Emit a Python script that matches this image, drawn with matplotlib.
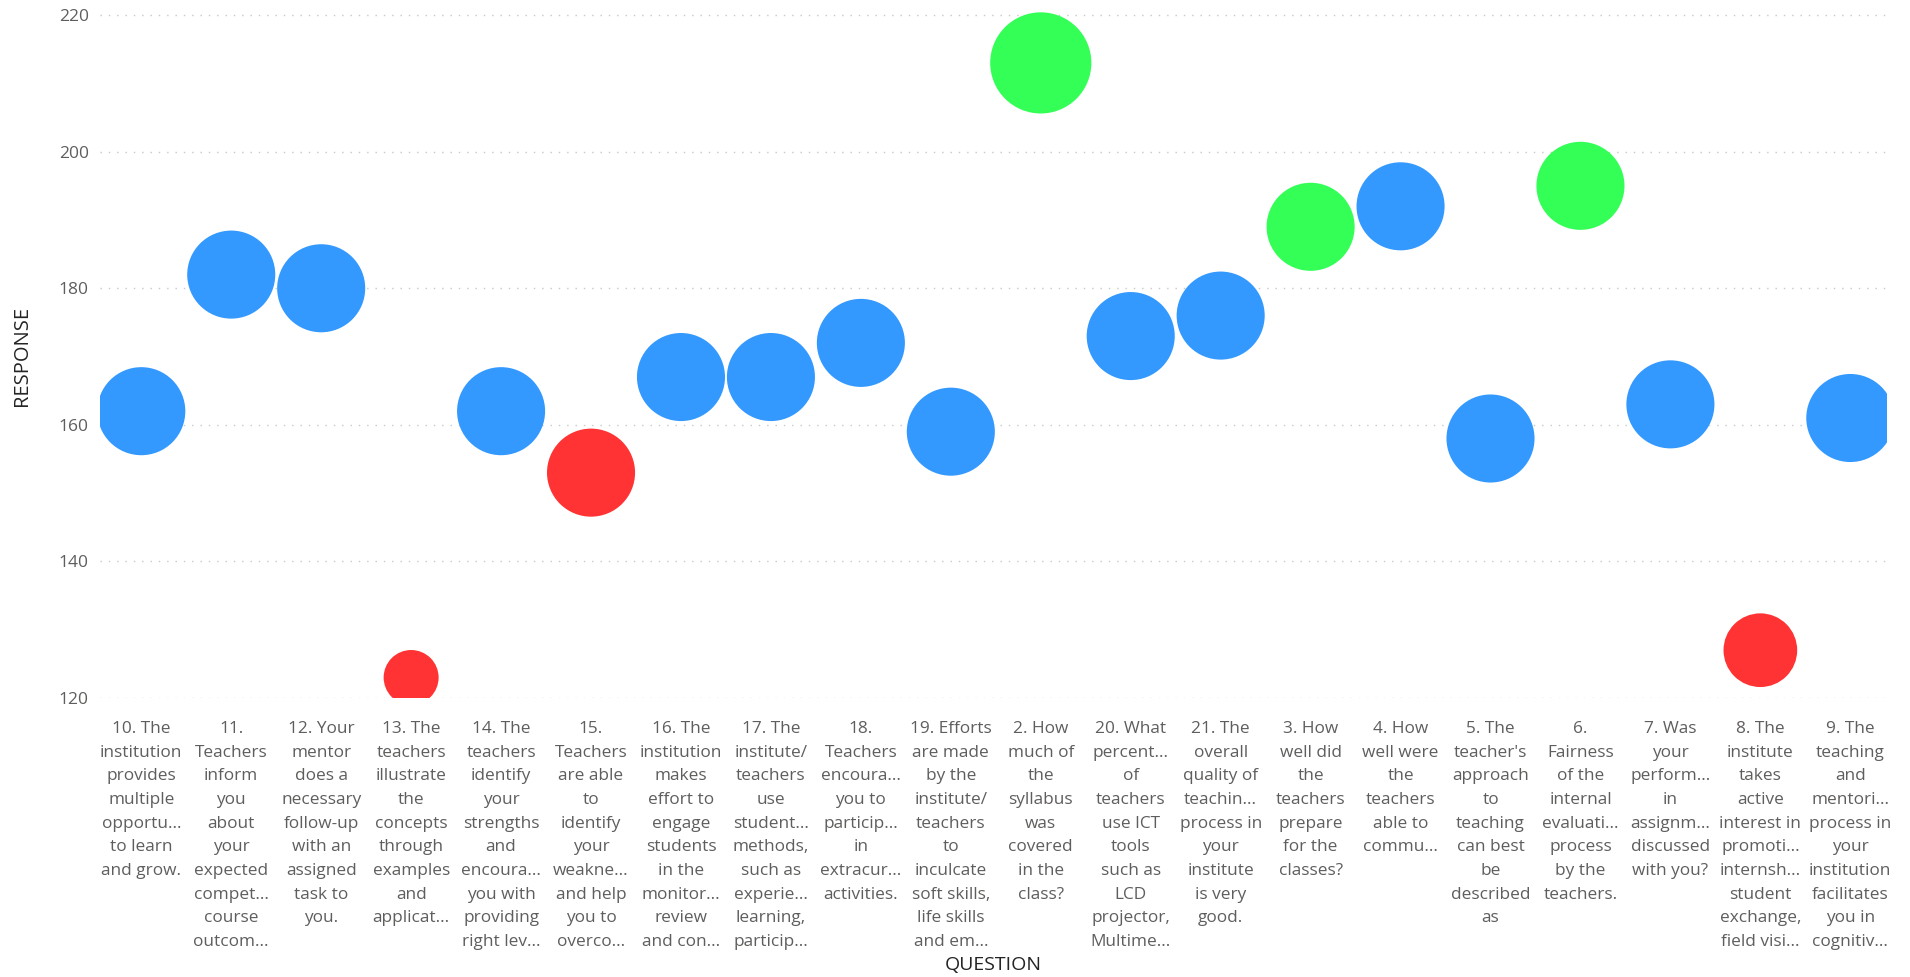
import matplotlib
matplotlib.use("Agg")
import matplotlib.pyplot as plt

questions = [
    "10. The\ninstitution\nprovides\nmultiple\nopportu...\nto learn\nand grow.",
    "11.\nTeachers\ninform\nyou\nabout\nyour\nexpected\ncompet...\ncourse\noutcom...",
    "12. Your\nmentor\ndoes a\nnecessary\nfollow-up\nwith an\nassigned\ntask to\nyou.",
    "13. The\nteachers\nillustrate\nthe\nconcepts\nthrough\nexamples\nand\napplicat...",
    "14. The\nteachers\nidentify\nyour\nstrengths\nand\nencoura...\nyou with\nproviding\nright lev...",
    "15.\nTeachers\nare able\nto\nidentify\nyour\nweakne...\nand help\nyou to\noverco...",
    "16. The\ninstitution\nmakes\neffort to\nengage\nstudents\nin the\nmonitor...\nreview\nand con...",
    "17. The\ninstitute/\nteachers\nuse\nstudent...\nmethods,\nsuch as\nexperie...\nlearning,\nparticip...",
    "18.\nTeachers\nencoura...\nyou to\nparticip...\nin\nextracur...\nactivities.",
    "19. Efforts\nare made\nby the\ninstitute/\nteachers\nto\ninculcate\nsoft skills,\nlife skills\nand em...",
    "2. How\nmuch of\nthe\nsyllabus\nwas\ncovered\nin the\nclass?",
    "20. What\npercent...\nof\nteachers\nuse ICT\ntools\nsuch as\nLCD\nprojector,\nMultime...",
    "21. The\noverall\nquality of\nteachin...\nprocess in\nyour\ninstitute\nis very\ngood.",
    "3. How\nwell did\nthe\nteachers\nprepare\nfor the\nclasses?",
    "4. How\nwell were\nthe\nteachers\nable to\ncommu...",
    "5. The\nteacher's\napproach\nto\nteaching\ncan best\nbe\ndescribed\nas",
    "6.\nFairness\nof the\ninternal\nevaluati...\nprocess\nby the\nteachers.",
    "7. Was\nyour\nperform...\nin\nassignm...\ndiscussed\nwith you?",
    "8. The\ninstitute\ntakes\nactive\ninterest in\npromoti...\ninternsh...\nstudent\nexchange,\nfield visi...",
    "9. The\nteaching\nand\nmentori...\nprocess in\nyour\ninstitution\nfacilitates\nyou in\ncognitiv...",
]
response = [162, 182, 180, 123, 162, 153, 167, 167, 172, 159,
            213, 173, 176, 189, 192, 158, 195, 163, 127, 161]
bubble_size = [100, 100, 100, 39, 100, 100, 100, 100, 100, 100,
               132, 100, 100, 100, 100, 100, 100, 100, 70, 100]
group = ["mid", "mid", "mid", "low", "mid", "low", "mid", "mid", "mid", "mid",
         "high", "mid", "mid", "high", "mid", "mid", "high", "mid", "low", "mid"]
group_colors = {"mid": "#3399FF", "high": "#33FF57", "low": "#FF3333"}
y_ticks = [120, 140, 160, 180, 200, 220]

plt.rcParams["font.family"] = ["Open Sans", "DejaVu Sans"]

fig = plt.figure(figsize=(19.10, 9.77), dpi=100)
ax = fig.add_axes([100 / 1910, 279 / 977, 1787 / 1910, (698 - 11) / 977])

x = list(range(len(questions)))
ax.scatter(x, response, s=[b * 40.2 for b in bubble_size],
           c=[group_colors[g] for g in group], linewidths=0, zorder=3)

ax.set_xlim(-0.459, len(questions) - 1 + 0.408)
ax.set_ylim(120, 220.6)
ax.set_yticks(y_ticks)
ax.set_xticks(x)
ax.set_xticklabels(questions, fontsize=12.4, color="#605E5C", linespacing=1.64,
                   va="top")
ax.tick_params(axis="x", length=0, pad=16.5)
ax.tick_params(axis="y", length=0, pad=8, labelsize=12.5, labelcolor="#605E5C")
for sp in ax.spines.values():
    sp.set_visible(False)
ax.grid(axis="y", color="#C8C8C8", linestyle=(0, (1, 5)), linewidth=1.0, zorder=0)
ax.set_axisbelow(True)

fig.text(993 / 1910, 1 - 965 / 977, "QUESTION", ha="center", va="center",
         fontsize=14, color="#252423")
fig.text(22 / 1910, 1 - 356 / 977, "RESPONSE", ha="center", va="center",
         rotation=90, fontsize=14.5, color="#252423")

fig.savefig("out.png", dpi=100, facecolor="white")
